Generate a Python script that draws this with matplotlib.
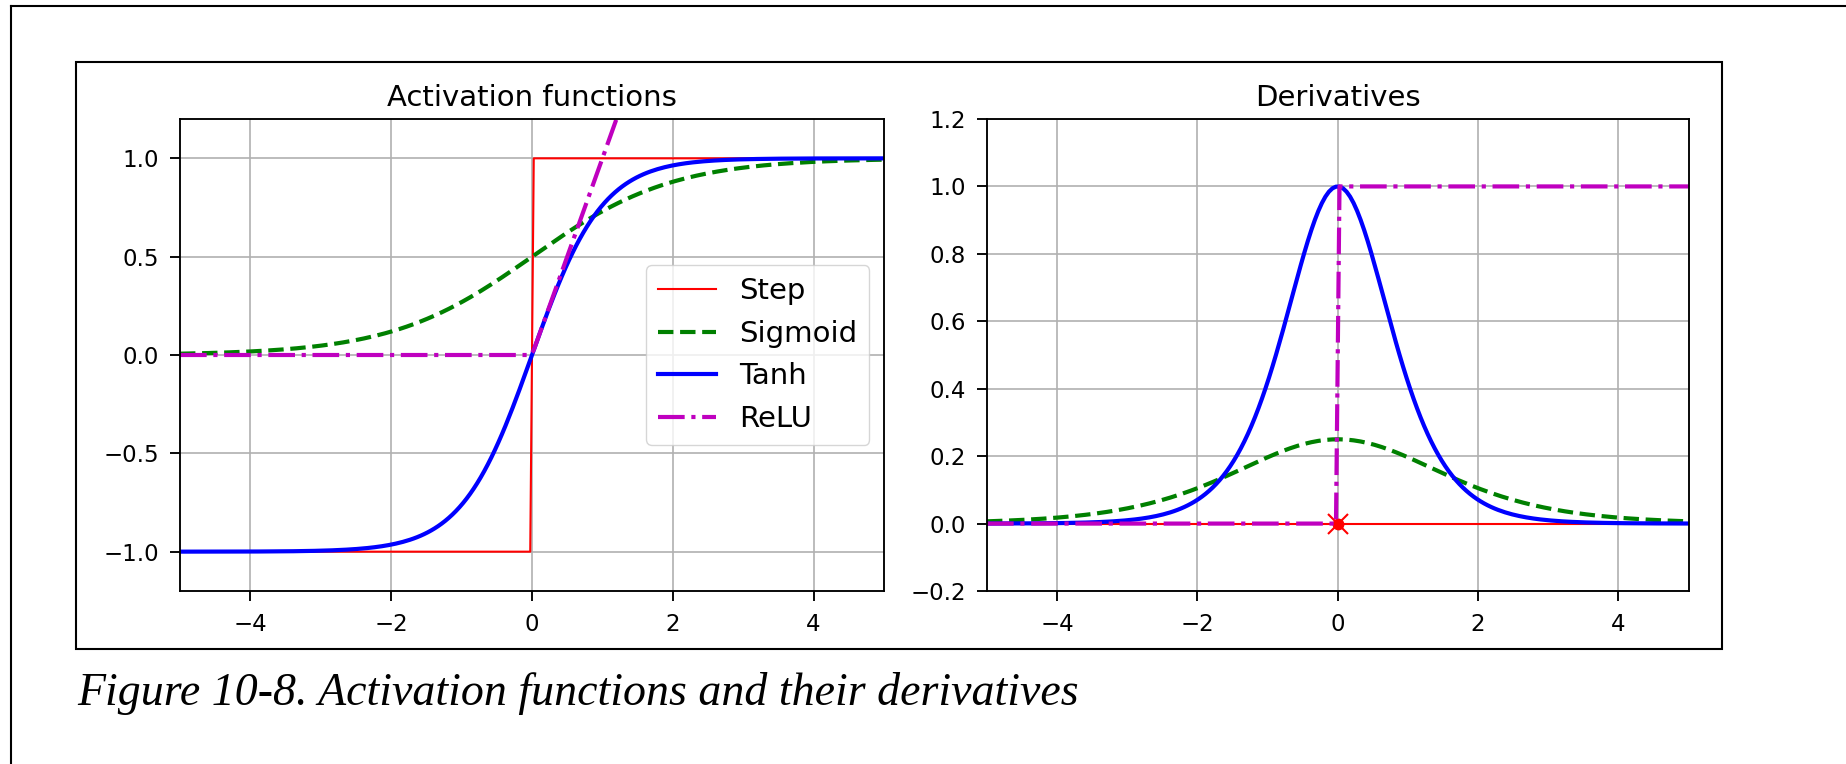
import numpy as np
import matplotlib
matplotlib.use("Agg")
import matplotlib.pyplot as plt
from matplotlib.lines import Line2D

# input grid used for the curves (same as the book's figure)
z = np.linspace(-5, 5, 200)
x_ticks = [-4, -2, 0, 2, 4]
left_yticks = [-1.0, -0.5, 0.0, 0.5, 1.0]
right_yticks = [-0.2, 0.0, 0.2, 0.4, 0.6, 0.8, 1.0, 1.2]
labels = ["Step", "Sigmoid", "Tanh", "ReLU"]
titles = ["Activation functions", "Derivatives"]
caption = "Figure 10-8. Activation functions and their derivatives"


def sigmoid(v):
    return 1 / (1 + np.exp(-v))


def relu(v):
    return np.maximum(0, v)


def derivative(f, v, eps=0.000001):
    return (f(v + eps) - f(v - eps)) / (2 * eps)


s = 1.5  # scale of the original figure
plt.rcParams.update({
    "font.size": 16.5,
    "axes.linewidth": 0.9 * s,
    "grid.linewidth": 0.8 * s,
    "xtick.major.size": 7,
    "ytick.major.size": 7,
    "xtick.major.width": 0.9 * s,
    "ytick.major.width": 0.9 * s,
    "xtick.major.pad": 9,
    "ytick.major.pad": 8,
})

W, H = 1846, 764
fig = plt.figure(figsize=(W / 100, H / 100), dpi=100)

ax1 = fig.add_axes([180 / W, 1 - 591 / H, 704 / W, 472 / H])
ax2 = fig.add_axes([987 / W, 1 - 591 / H, 701.5 / W, 472 / H])

ax1.plot(z, np.sign(z), "r-", linewidth=1 * s, label=labels[0])
ax1.plot(z, sigmoid(z), "g--", linewidth=2 * s, label=labels[1])
ax1.plot(z, np.tanh(z), "b-", linewidth=2 * s, label=labels[2])
ax1.plot(z, relu(z), "m-.", linewidth=2 * s, label=labels[3])
ax1.grid(True)
ax1.legend(loc="center right", fontsize=14 * s)
ax1.set_title(titles[0], fontsize=21, pad=9)
ax1.axis([-5, 5, -1.2, 1.2])
ax1.set_xticks(x_ticks)
ax1.set_yticks(left_yticks)

ax2.plot(z, derivative(np.sign, z), "r-", linewidth=1 * s, label=labels[0])
ax2.plot(0, 0, "ro", markersize=5 * s)
ax2.plot(0, 0, "rx", markersize=10 * s, markeredgewidth=1 * s)
ax2.plot(z, derivative(sigmoid, z), "g--", linewidth=2 * s, label=labels[1])
ax2.plot(z, derivative(np.tanh, z), "b-", linewidth=2 * s, label=labels[2])
ax2.plot(z, derivative(relu, z), "m-.", linewidth=2 * s, label=labels[3])
ax2.grid(True)
ax2.set_title(titles[1], fontsize=21, pad=9)
ax2.axis([-5, 5, -0.2, 1.2])
ax2.set_xticks(x_ticks)
ax2.set_yticks(right_yticks)

# frame around the figure and the page border
box = [76 / W, 1 - 649 / H, 1646 / W, 587 / H]
fig.add_artist(plt.Rectangle((box[0], box[1]), box[2], box[3], fill=False,
                             edgecolor="black", linewidth=1.5,
                             transform=fig.transFigure))
fig.add_artist(Line2D([10.5 / W, 10.5 / W], [0, 1 - 6 / H], color="black",
                      linewidth=1.5, transform=fig.transFigure))
fig.add_artist(Line2D([10.5 / W, 1], [1 - 6 / H, 1 - 6 / H], color="black",
                      linewidth=1.5, transform=fig.transFigure))

fig.text(77 / W, 1 - 705 / H, caption, fontsize=33, family="Liberation Serif",
         style="italic", ha="left", va="baseline")

fig.savefig("out.png", dpi=100)
